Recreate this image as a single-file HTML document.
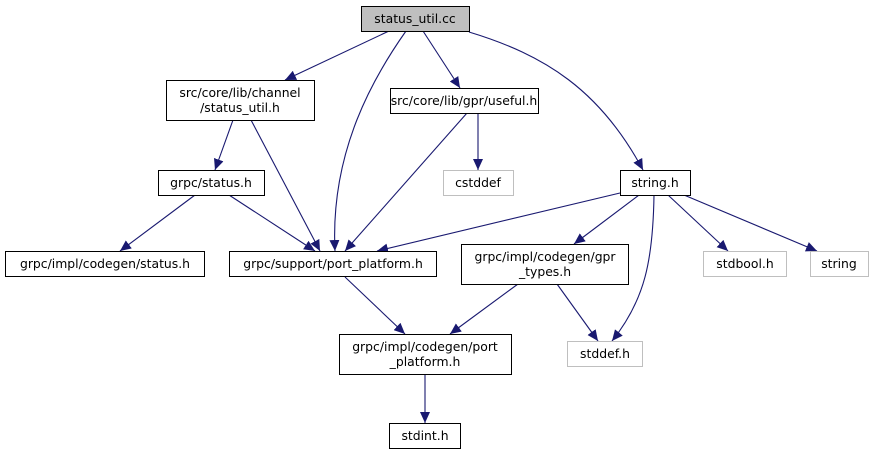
<!DOCTYPE html>
<html><head><meta charset="utf-8"><style>
body{margin:0;background:#fff}
svg{display:block}
text{font-family:"DejaVu Sans","Liberation Sans",sans-serif;font-size:12.4px;fill:#000;text-anchor:middle}
.b{fill:#fff;stroke:#000;stroke-width:1}
.g{fill:#fff;stroke:#bfbfbf;stroke-width:1}
.e{fill:none;stroke:#191970;stroke-width:1.1;marker-end:url(#a)}
</style></head><body>
<svg width="874" height="455" viewBox="0 0 874 455" xmlns="http://www.w3.org/2000/svg">
<defs><marker id="a" markerUnits="userSpaceOnUse" markerWidth="12" markerHeight="10" refX="11" refY="5" orient="auto"><path d="M0,0 L11,5 L0,10 z" fill="#191970"/></marker></defs>
<path class="e" d="M389,31 L285,80"/>
<path class="e" d="M406,31 C375,75 330,150 335,251"/>
<path class="e" d="M423,31 L460,88"/>
<path class="e" d="M469,32 C545,55 600,90 643,170"/>
<path class="e" d="M233,120 L215,170"/>
<path class="e" d="M251,120 L320,251"/>
<path class="e" d="M467,113 L345,251"/>
<path class="e" d="M478,113 L478,170"/>
<path class="e" d="M195,195 L120,251"/>
<path class="e" d="M229,195 L315,251"/>
<path class="e" d="M620,193 L377,251"/>
<path class="e" d="M639,195 L574,244"/>
<path class="e" d="M654,195 C653,260 645,300 612,341"/>
<path class="e" d="M668,195 L728,251"/>
<path class="e" d="M684,195 L817,251"/>
<path class="e" d="M345,277 L405,334"/>
<path class="e" d="M518,284 L450,334"/>
<path class="e" d="M557,284 L598,341"/>
<path class="e" d="M425,374 L425,423"/>
<rect x="361.5" y="6.5" width="108" height="25" fill="#bfbfbf" stroke="#000"/>
<text x="415" y="23">status_util.cc</text>
<rect class="b" x="166.5" y="80.5" width="148" height="40"/>
<text x="240" y="97">src/core/lib/channel</text><text x="240" y="112">/status_util.h</text>
<rect class="b" x="390.5" y="88.5" width="148" height="25"/>
<text x="464" y="105">src/core/lib/gpr/useful.h</text>
<rect class="g" x="443.5" y="170.5" width="70" height="25"/>
<text x="478" y="187">cstddef</text>
<rect class="b" x="620.5" y="170.5" width="70" height="25"/>
<text x="655" y="187">string.h</text>
<rect class="b" x="158.5" y="170.5" width="106" height="25"/>
<text x="211" y="187">grpc/status.h</text>
<rect class="b" x="5.5" y="251.5" width="199" height="25"/>
<text x="105" y="268">grpc/impl/codegen/status.h</text>
<rect class="b" x="229.5" y="251.5" width="207" height="25"/>
<text x="333" y="268">grpc/support/port_platform.h</text>
<rect class="b" x="461.5" y="244.5" width="167" height="40"/>
<text x="545" y="261">grpc/impl/codegen/gpr</text><text x="545" y="276">_types.h</text>
<rect class="g" x="703.5" y="251.5" width="83" height="25"/>
<text x="745" y="268">stdbool.h</text>
<rect class="g" x="810.5" y="251.5" width="58" height="25"/>
<text x="839" y="268">string</text>
<rect class="b" x="339.5" y="334.5" width="172" height="40"/>
<text x="425" y="351">grpc/impl/codegen/port</text><text x="425" y="366">_platform.h</text>
<rect class="g" x="567.5" y="341.5" width="75" height="25"/>
<text x="605" y="358">stddef.h</text>
<rect class="b" x="389.5" y="423.5" width="71" height="25"/>
<text x="425" y="440">stdint.h</text>
</svg>
</body></html>
